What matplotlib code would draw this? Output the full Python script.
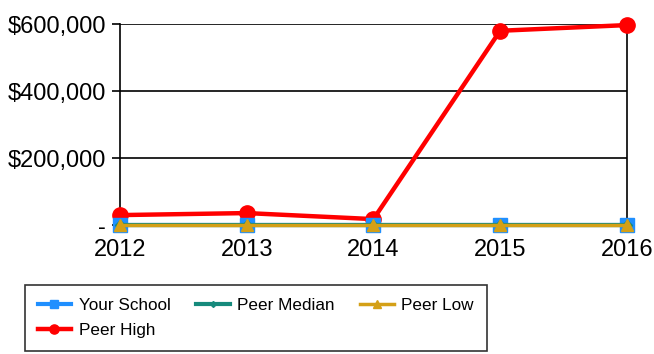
import matplotlib.pyplot as plt
from matplotlib.ticker import FuncFormatter

plt.rcParams["font.family"] = ["Liberation Sans", "DejaVu Sans"]

years = [2012, 2013, 2014, 2015, 2016]
your_school = [0, 0, 0, 0, 0]
peer_median = [0, 0, 0, 0, 0]
peer_low = [0, 0, 0, 0, 0]
peer_high = [30000, 36000, 18000, 580000, 597000]

fig = plt.figure(figsize=(6.54, 3.54), dpi=100)
ax = fig.add_axes([0.1835, 0.364, 0.775, 0.568])

ax.axhline(0, color="black", lw=1.5, zorder=2)
ax.plot(years, peer_high, color="#ff0000", lw=3.2, marker="o", ms=11,
        label="Peer High", zorder=3, clip_on=False)
ax.plot(years, your_school, color="#1f8fff", lw=3, marker="s", ms=10,
        label="Your School", zorder=4, clip_on=False)
ax.plot(years, peer_median, color="#168a7c", lw=3, marker="D", ms=5,
        label="Peer Median", zorder=5, clip_on=False)
ax.plot(years, peer_low, color="#d4a017", lw=2.5, marker="^", ms=9,
        label="Peer Low", zorder=6, clip_on=False)

ax.set_xlim(2012, 2016)
ax.set_ylim(0, 600000)
ax.set_xticks(years)
ax.set_yticks([0, 200000, 400000, 600000])
ax.yaxis.set_major_formatter(FuncFormatter(
    lambda v, p: "-" if v == 0 else "${:,.0f}".format(v)))
ax.grid(axis="y", color="black", lw=1.2)
ax.set_axisbelow(True)
for s in ["left", "right"]:
    ax.spines[s].set_linewidth(1.2)
ax.spines["bottom"].set_visible(False)
ax.spines["top"].set_visible(False)
ax.tick_params(axis="y", labelsize=17, length=6, width=1.2, pad=4)
ax.tick_params(axis="x", labelsize=17, length=0, pad=10)

# legend order: row 1 Your School / Peer Median / Peer Low, row 2 Peer High
handles, labels = ax.get_legend_handles_labels()
order = [1, 0, 2, 3]
top = 1 - 285 / 354
leg = fig.legend([handles[i] for i in order], [labels[i] for i in order],
                 loc="upper left", bbox_to_anchor=(25 / 654, top),
                 ncol=3, fontsize=12.3, frameon=True, fancybox=False,
                 edgecolor="black", handlelength=1.95, handletextpad=0.45,
                 markerscale=0.6, borderpad=0.75, borderaxespad=0,
                 labelspacing=0.6, columnspacing=1.5)
leg.get_frame().set_linewidth(1.2)

fig.savefig("out.png", dpi=100)
